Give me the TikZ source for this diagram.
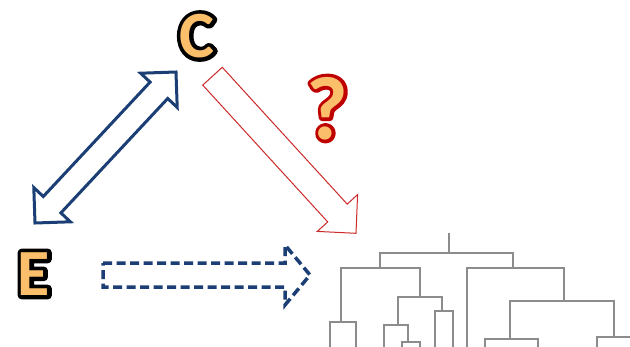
\documentclass[tikz,border=0pt]{standalone}
\usepackage{fontspec}
\setmainfont{Carlito}
\definecolor{navy}{HTML}{1B3F75}
\definecolor{arrowred}{HTML}{CC2929}
\definecolor{qred}{HTML}{C00000}
\definecolor{letterfill}{HTML}{FBBE6B}
\definecolor{dendgray}{HTML}{8C8C8C}
% #1 stroke colour as "r g b", #2 stroke width, #3 fill colour, #4 text
\newcommand\outlinedtext[4]{{\leavevmode\rlap{\special{pdf:code 1 Tr #2 w 1 j #1 RG}#4\special{pdf:code 0 Tr}}\color{#3}#4}}
\tikzset{
  letter/.style={inner sep=0pt, font=\bfseries\fontsize{66}{66}\selectfont},
  qmark/.style={inner sep=0pt, font=\bfseries\fontsize{90}{90}\selectfont},
  bluearrow/.style={draw=navy, line width=3pt, line join=miter, fill=white},
  dashedarrow/.style={draw=navy, line width=3.5pt, line join=miter, dash pattern=on 9pt off 4.5pt},
  redarrow/.style={draw=arrowred, line width=1pt, line join=miter, fill=white},
  dendro/.style={draw=dendgray, line width=1.5pt}
}
\begin{document}
\begin{tikzpicture}[x=1pt,y=-1pt]
\useasboundingbox (0,0) rectangle (630,346);
\clip (0,0) rectangle (630,346);
% labels
\node[letter] (C) at (197,36) {\outlinedtext{0 0 0}{8}{letterfill}{C}};
\node[letter] (E) at (34,274) {\outlinedtext{0 0 0}{8}{letterfill}{E}};
\node[qmark] (Q) at (327.5,108.5) {\outlinedtext{0.75 0 0}{7}{letterfill}{?}};
% double arrow C <-> E
\path[bluearrow] (176,72) -- (177.2,107.4) -- (167.7,98.5) -- (60.9,212.9) -- (70.4,221.8)
  -- (35,223) -- (33.8,187.6) -- (43.3,196.5) -- (150.1,82.1) -- (140.6,73.2) -- cycle;
% red arrow C -> tree
\path[redarrow] (222.25,67.3) -- (347.2,204.1) -- (357.6,194.6) -- (356,233.3)
  -- (317.3,231.4) -- (327.7,221.9) -- (202.75,85.1) -- cycle;
% dashed arrow E -> tree
\path[dashedarrow] (103,263) -- (285,263) -- (285,245) -- (310,275) -- (285,305)
  -- (285,287) -- (103,287) -- cycle;
% dendrogram
\path[dendro] (449,233) -- (449,253);
\path[dendro] (380,268) -- (380,253) -- (513,253) -- (513,268);
\path[dendro] (341,322) -- (341,268) -- (420,268) -- (420,297);
\path[dendro] (467,350) -- (467,268) -- (564,268) -- (564,301);
\path[dendro] (330,350) -- (330,322) -- (356,322) -- (356,350);
\path[dendro] (398,325) -- (398,297) -- (442,297) -- (442,311);
\path[dendro] (384,350) -- (384,325) -- (408,325) -- (408,342);
\path[dendro] (402,350) -- (402,342) -- (420,342) -- (420,350);
\path[dendro] (435,350) -- (435,311) -- (453,311) -- (453,350);
\path[dendro] (510,339) -- (510,301) -- (614,301) -- (614,337);
\path[dendro] (485,350) -- (485,339) -- (538,339) -- (538,350);
\path[dendro] (597,350) -- (597,337) -- (635,337);
\end{tikzpicture}
\end{document}
